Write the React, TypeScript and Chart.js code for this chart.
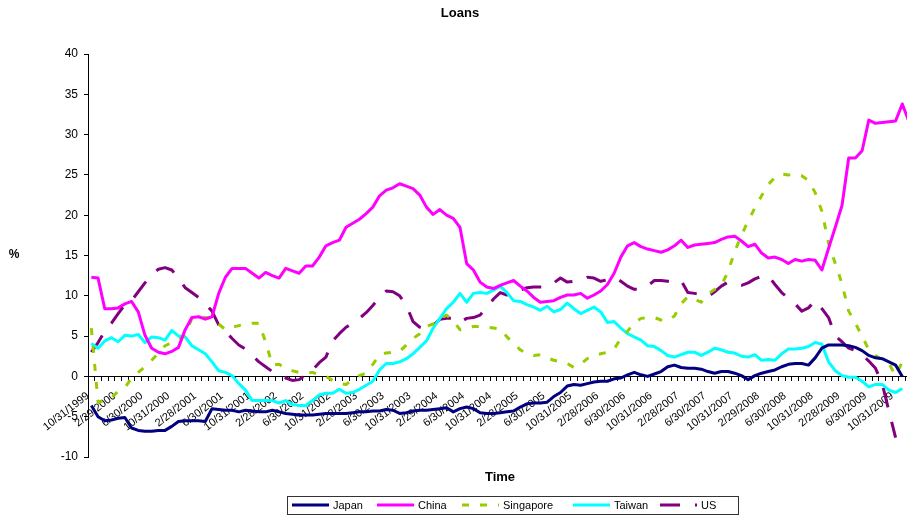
import React, { useEffect, useRef } from 'react';
import { Chart, registerables } from 'chart.js';

Chart.register(...registerables);

const tickLabels = [
  '10/31/1999', '2/29/2000', '6/30/2000', '10/31/2000', '2/28/2001', '6/30/2001',
  '10/31/2001', '2/28/2002', '6/30/2002', '10/31/2002', '2/28/2003', '6/30/2003',
  '10/31/2003', '2/29/2004', '6/30/2004', '10/31/2004', '2/28/2005', '6/30/2005',
  '10/31/2005', '2/28/2006', '6/30/2006', '10/31/2006', '2/28/2007', '6/30/2007',
  '10/31/2007', '2/29/2008', '6/30/2008', '10/31/2008', '2/28/2009', '6/30/2009',
  '10/31/2009',
];

const japan = [
  -3.6, -5.0, -5.5, -5.4, -5.2, -5.1, -6.4, -6.7, -6.8, -6.8,
  -6.7, -6.7, -6.2, -5.6, -5.5, -5.5, -5.5, -5.6, -4.0, -4.1,
  -4.2, -4.2, -4.4, -4.2, -4.3, -4.4, -4.4, -4.2, -4.4, -4.6,
  -4.7, -4.8, -4.8, -4.8, -4.7, -4.6, -4.6, -4.6, -4.6, -4.5,
  -4.4, -4.4, -4.3, -4.3, -4.1, -4.2, -4.6, -4.5, -4.3, -4.2,
  -4.2, -4.1, -4.0, -3.9, -4.4, -4.0, -3.8, -4.0, -4.5, -4.6,
  -4.6, -4.5, -4.4, -4.3, -3.8, -3.4, -3.3, -3.3, -3.2, -2.5,
  -2.0, -1.2, -1.0, -1.1, -0.9, -0.7, -0.6, -0.6, -0.3, -0.2,
  0.2, 0.5, 0.2, 0.0, 0.3, 0.6, 1.2, 1.4, 1.1, 1.0,
  1.0, 0.9, 0.6, 0.4, 0.6, 0.6, 0.4, 0.1, -0.4, 0.1,
  0.4, 0.6, 0.8, 1.2, 1.5, 1.6, 1.6, 1.4, 2.3, 3.5,
  3.9, 3.9, 3.9, 3.8, 3.6, 3.2, 2.6, 2.3, 2.2, 1.8,
  1.4, 0.0, null,
];

const china = [
  12.3, 12.2, 8.4, 8.4, 8.5, 9.0, 9.3, 8.0, 5.1, 3.5,
  3.0, 2.8, 3.1, 3.6, 5.8, 7.3, 7.4, 7.1, 7.4, 10.3,
  12.3, 13.4, 13.4, 13.4, 12.8, 12.2, 12.9, 12.5, 12.2, 13.4,
  13.1, 12.8, 13.7, 13.7, 14.8, 16.2, 16.6, 16.9, 18.5, 19.0,
  19.5, 20.2, 21.0, 22.4, 23.1, 23.4, 23.9, 23.6, 23.3, 22.5,
  21.0, 20.1, 20.7, 20.0, 19.6, 18.5, 14.0, 13.2, 11.7, 11.1,
  10.9, 11.3, 11.6, 11.9, 11.2, 10.6, 9.8, 9.2, 9.3, 9.4,
  9.8, 10.1, 10.1, 10.3, 9.7, 10.1, 10.6, 11.4, 12.8, 14.8,
  16.2, 16.6, 16.1, 15.8, 15.6, 15.4, 15.7, 16.2, 16.9, 16.0,
  16.3, 16.4, 16.5, 16.6, 17.0, 17.3, 17.4, 16.8, 16.1, 16.4,
  15.3, 14.7, 14.8, 14.5, 14.0, 14.5, 14.3, 14.5, 14.4, 13.2,
  15.9, 18.5, 21.2, 27.1, 27.1, 28.0, 31.8, 31.4, 31.5, 31.6,
  31.7, 33.8, 31.6,
];

const singapore = [
  6.0, -3.2, -3.0, -2.7, -1.8, -1.4, -0.2, 0.5, 1.2, 2.0,
  2.9, 3.8, 4.2, 4.5, 5.2, 7.2, 7.4, 7.3, 7.2, 6.5,
  5.8, 6.1, 6.3, 6.5, 6.6, 6.6, 4.3, 1.4, 1.5, 1.0,
  0.7, 0.5, 0.4, 0.5, 0.2, 0.0, -0.5, -0.9, -1.0, -0.4,
  0.1, 0.4, 1.5, 2.7, 2.9, 3.0, 3.1, 3.9, 4.7, 5.3,
  6.2, 6.5, 7.2, 7.6, 6.9, 5.8, 5.9, 6.2, 6.2, 6.1,
  6.0, 5.9, 4.9, 4.1, 3.3, 2.8, 2.6, 2.7, 2.3, 2.0,
  1.8, 1.6, 1.1, 1.5, 2.2, 2.6, 2.8, 3.0, 3.4, 4.7,
  5.6, 6.6, 7.2, 7.3, 7.3, 7.0, 6.9, 7.5, 9.0, 9.9,
  9.6, 9.2, 10.2, 10.8, 11.3, 13.0, 15.5, 17.5, 19.3, 20.9,
  22.4, 23.8, 24.7, 25.1, 25.0, 25.1, 24.9, 24.3, 22.8, 20.5,
  16.5, 14.0, 11.5, 8.1, 6.6, 5.0, 3.3, 2.6, 2.1, 1.6,
  0.1, 1.8, null,
];

const taiwan = [
  4.1, 3.5, 4.4, 4.8, 4.3, 5.1, 5.0, 5.2, 4.2, 4.9,
  4.8, 4.5, 5.7, 5.0, 4.9, 3.8, 3.3, 2.8, 1.8, 0.7,
  0.5, 0.1, -0.9, -1.7, -3.0, -3.0, -3.0, -3.0, -3.3, -3.0,
  -3.5, -3.6, -3.6, -3.0, -2.3, -2.1, -2.1, -1.6, -2.1, -2.0,
  -1.6, -1.1, -0.6, 0.8, 1.6, 1.6, 1.8, 2.2, 2.8, 3.6,
  4.4, 6.0, 7.2, 8.4, 9.2, 10.3, 9.2, 10.3, 10.4, 10.3,
  10.7, 11.2, 10.4, 9.4, 9.3, 8.9, 8.6, 8.2, 8.7, 8.0,
  8.3, 9.1, 8.4, 7.8, 8.2, 8.6, 8.0, 6.7, 6.8, 6.0,
  5.3, 4.9, 4.5, 3.8, 3.7, 3.2, 2.6, 2.4, 2.7, 3.0,
  3.0, 2.6, 3.0, 3.5, 3.3, 3.0, 2.9, 2.5, 2.4, 2.7,
  2.0, 2.1, 2.0, 2.8, 3.4, 3.4, 3.5, 3.7, 4.2, 4.0,
  1.8, 0.7, 0.1, -0.1, -0.1, -0.6, -1.3, -1.0, -1.0, -1.7,
  -2.0, -1.5, null,
];

const us = [
  3.0, 4.2, 5.6, 6.6, 7.8, 8.9, 9.4, 10.5, 11.6, 12.6,
  13.3, 13.5, 13.2, 12.2, 11.0, 10.4, 9.8, 9.0, 8.1, 6.4,
  5.6, 4.7, 3.9, 3.4, 2.6, 1.8, 1.2, 0.6, 0.1, -0.2,
  -0.5, -0.4, 0.2, 0.8, 1.7, 2.4, 4.4, 5.3, 6.1, 6.6,
  7.2, 7.9, 8.8, 9.8, 10.6, 10.5, 10.0, 8.8, 6.8, 6.1,
  5.7, 6.3, 7.1, 7.2, 7.2, 6.7, 7.2, 7.3, 7.6, 8.6,
  9.6, 10.4, 10.1, 10.3, 10.7, 11.0, 11.1, 11.1, 11.1, 11.6,
  12.2, 11.7, 11.8, 11.9, 12.3, 12.2, 11.8, 12.0, 12.3, 11.8,
  11.2, 10.8, 10.8, 11.2, 11.9, 11.9, 11.8, 11.8, 11.9, 10.4,
  10.3, 10.2, 9.9, 10.5, 11.2, 11.7, 11.5, 11.3, 11.6, 12.1,
  12.4, 12.5, 11.4, 10.4, 9.7, 9.0, 8.1, 8.5, 9.4, 8.4,
  7.3, 5.0, 4.3, 3.5, 3.2, 2.7, 1.9, 1.0, -0.9, -4.3,
  -7.6, null, null,
];

const FONT = '"Liberation Sans", Arial, Helvetica, sans-serif';

const seriesDefs = [
  { label: 'Japan', values: japan, color: '#000080', dash: [] as number[] },
  { label: 'China', values: china, color: '#FF00FF', dash: [] as number[] },
  { label: 'Singapore', values: singapore, color: '#99CC00', dash: [7, 11] },
  { label: 'Taiwan', values: taiwan, color: '#00FFFF', dash: [] as number[] },
  { label: 'US', values: us, color: '#800080', dash: [20, 15] },
];

const legendStarts = [292, 377, 462, 573, 660];

const decorPlugin = {
  id: 'decor',
  afterDraw(chart: any) {
    const ctx = chart.ctx as CanvasRenderingContext2D;
    ctx.save();
    ctx.fillStyle = '#000';
    ctx.textAlign = 'center';
    ctx.textBaseline = 'middle';
    ctx.font = `bold 13px ${FONT}`;
    ctx.fillText('Loans', 460, 13);
    ctx.fillText('Time', 500, 477);
    ctx.font = `bold 12px ${FONT}`;
    ctx.fillText('%', 14, 255);

    // legend
    ctx.font = `11px ${FONT}`;
    ctx.textAlign = 'left';
    const ly = 505;
    chart.data.datasets.forEach((ds: any, i: number) => {
      const x0 = legendStarts[i];
      ctx.save();
      ctx.strokeStyle = ds.borderColor;
      ctx.lineWidth = 3;
      ctx.setLineDash(ds.borderDash || []);
      ctx.beginPath();
      ctx.moveTo(x0, ly);
      ctx.lineTo(x0 + 37, ly);
      ctx.stroke();
      ctx.restore();
      ctx.fillStyle = '#000';
      ctx.fillText(ds.label, x0 + 41, ly + 1);
    });
    ctx.strokeStyle = '#333';
    ctx.lineWidth = 1;
    ctx.strokeRect(287.5, 496.5, 451, 18);
    ctx.restore();
  },
};

export default function App() {
  const ref = useRef<HTMLCanvasElement>(null);

  useEffect(() => {
    const canvas = ref.current;
    if (!canvas) return;
    const chart = new Chart(canvas, {
      type: 'line',
      data: {
        datasets: seriesDefs.map((s) => ({
          label: s.label,
          data: s.values.map((v, i) => ({ x: i, y: v })),
          borderColor: s.color,
          backgroundColor: s.color,
          borderWidth: 3,
          borderDash: s.dash,
          borderCapStyle: 'butt',
          borderJoinStyle: 'round',
          pointRadius: 0,
          pointHoverRadius: 0,
          tension: 0,
          fill: false,
          spanGaps: false,
        })),
      },
      options: {
        responsive: false,
        animation: false,
        devicePixelRatio: 1,
        events: [],
        layout: { padding: { top: 54, bottom: 59, left: 0, right: 0 } },
        plugins: {
          legend: { display: false },
          title: { display: false },
          tooltip: { enabled: false },
        },
        scales: {
          x: {
            type: 'linear',
            position: { y: 0 },
            min: -0.5,
            max: 121.7,
            afterBuildTicks: (scale: any) => {
              const t = [];
              for (let k = 0; k <= 122; k++) t.push({ value: k - 0.5 });
              scale.ticks = t;
            },
            afterFit: (scale: any) => {
              scale.paddingLeft = 0;
              scale.paddingRight = 0;
            },
            ticks: {
              autoSkip: false,
              minRotation: 38,
              maxRotation: 38,
              padding: 9,
              color: '#000',
              font: { family: FONT, size: 11 },
              callback: (value: any) => {
                const k = Math.round(Number(value) + 0.5);
                return k % 4 === 0 && tickLabels[k / 4] ? tickLabels[k / 4] : '';
              },
            },
            grid: {
              drawOnChartArea: false,
              drawTicks: true,
              tickLength: 4,
              color: '#000',
              lineWidth: 1,
            },
            border: { color: '#000', width: 1 },
          },
          y: {
            type: 'linear',
            position: 'left',
            min: -10,
            max: 40,
            afterFit: (scale: any) => {
              scale.width = 88;
            },
            ticks: {
              stepSize: 5,
              padding: 6,
              color: '#000',
              font: { family: FONT, size: 12 },
            },
            grid: {
              drawOnChartArea: false,
              drawTicks: true,
              tickLength: 4,
              color: '#000',
            },
            border: { color: '#000', width: 1 },
          },
        },
      },
      plugins: [decorPlugin],
    } as any);
    return () => chart.destroy();
  }, []);

  return (
    <canvas
      ref={ref}
      width={907}
      height={516}
      style={{ position: 'absolute', left: 0, top: 0, width: '907px', height: '516px', display: 'block' }}
    />
  );
}
